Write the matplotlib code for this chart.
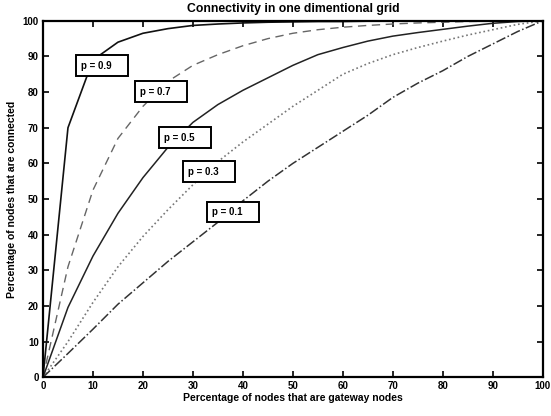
import matplotlib
matplotlib.use("Agg")
import matplotlib.pyplot as plt

# percentage of gateway nodes (x) and connected nodes (y) per p value
gateway = [0, 5, 10, 15, 20, 25, 30, 35, 40, 45, 50, 55, 60, 65, 70, 75, 80, 85, 90, 95, 100]
conn_p09 = [0, 70, 89, 94, 96.5, 97.8, 98.7, 99.1, 99.4, 99.6, 99.7, 99.8, 99.8, 99.9, 99.9, 99.9, 100, 100, 100, 100, 100]
conn_p07 = [0, 31, 52.5, 67, 76, 83, 87.5, 90.5, 93, 95, 96.5, 97.5, 98.2, 98.7, 99.1, 99.4, 99.6, 99.8, 99.9, 100, 100]
conn_p05 = [0, 19.6, 34, 46, 56, 64.5, 71.5, 76.5, 80.5, 84, 87.5, 90.5, 92.5, 94.3, 95.7, 96.7, 97.6, 98.5, 99.3, 99.8, 100]
conn_p03 = [0, 10, 21, 31, 39.5, 47, 54, 60.5, 66, 71, 76, 80.5, 85, 88, 90.5, 92.5, 94.3, 96, 97.5, 99, 100]
conn_p01 = [0, 6.7, 13.5, 20.5, 26.5, 32.5, 38, 43.5, 49.5, 55, 60, 64.5, 69, 73.5, 78.5, 82.5, 86, 90, 93.5, 97, 100]

labels = ['p = 0.9', 'p = 0.7', 'p = 0.5', 'p = 0.3', 'p = 0.1']
label_xy = [(7.6, 87.4), (19.4, 80.1), (24.2, 67.2), (29.0, 57.7), (33.8, 46.4)]

plt.rcParams['font.family'] = ['Liberation Sans', 'DejaVu Sans']

fig = plt.figure(figsize=(5.51, 4.16), dpi=100)
ax = fig.add_axes([0.078, 0.093, 0.907, 0.857])

ax.plot(gateway, conn_p09, '-', color='#111111', lw=1.2)
ax.plot(gateway, conn_p07, '--', color='#666666', lw=1.0, dashes=(6, 4))
ax.plot(gateway, conn_p05, '-', color='#222222', lw=1.1)
ax.plot(gateway, conn_p03, ':', color='#777777', lw=1.2)
ax.plot(gateway, conn_p01, '-.', color='#333333', lw=1.1)

# MATLAB style text boxes: extra room on the right
for txt, (x, y) in zip(labels, label_xy):
    ax.text(x, y, txt + '    ', fontsize=7, fontweight='bold', va='center', ha='left',
            bbox=dict(boxstyle='square,pad=0.55', fc='white', ec='black', lw=1.4))

ax.set_xlim(0, 100)
ax.set_ylim(0, 100)
ax.set_xticks(range(0, 101, 10))
ax.set_yticks(range(0, 101, 10))
ax.tick_params(direction='in', top=True, right=True, length=4, width=1.2, labelsize=7, pad=3)
for lab in ax.get_xticklabels() + ax.get_yticklabels():
    lab.set_fontweight('bold')
for sp in ax.spines.values():
    sp.set_linewidth(1.6)

ax.set_title('Connectivity in one dimentional grid', fontsize=8.8, fontweight='bold', pad=6)
ax.set_xlabel('Percentage of nodes that are gateway nodes', fontsize=7.5, fontweight='bold', labelpad=1)
ax.set_ylabel('Percentage of nodes that are connected', fontsize=7.5, fontweight='bold', labelpad=4)

fig.savefig('out.png', dpi=100)
